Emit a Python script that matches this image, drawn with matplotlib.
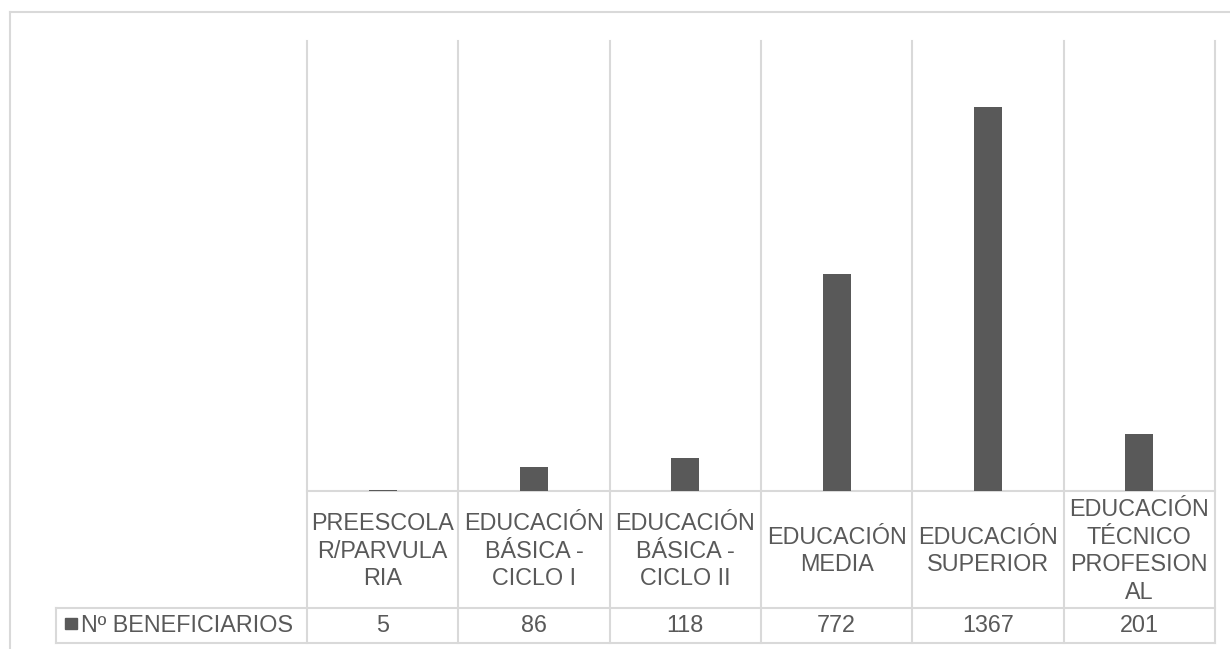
import matplotlib.pyplot as plt
import matplotlib.transforms as mtransforms
from matplotlib.lines import Line2D
from matplotlib.patches import Rectangle

# Data
categories = [
    "PREESCOLA\nR/PARVULA\nRIA",
    "EDUCACIÓN\nBÁSICA -\nCICLO I",
    "EDUCACIÓN\nBÁSICA -\nCICLO II",
    "EDUCACIÓN\nMEDIA",
    "EDUCACIÓN\nSUPERIOR",
    "EDUCACIÓN\nTÉCNICO\nPROFESION\nAL",
]
beneficiarios = [5, 86, 118, 772, 1367, 201]
series_name = "Nº BENEFICIARIOS"

bar_color = "#595959"
grid_color = "#d9d9d9"
text_color = "#595959"
plt.rcParams["font.family"] = ["Liberation Sans", "DejaVu Sans"]
fs = 16.8

W, H = 1230, 649
fig = plt.figure(figsize=(W / 100, H / 100), dpi=100)

# overlay in pixel coordinates for the table and border
ov = fig.add_axes([0, 0, 1, 1])
ov.set_xlim(0, W)
ov.set_ylim(H, 0)
ov.axis("off")

# plot area
x0, x1, y0, y1 = 307, 1215, 41, 491
ax = fig.add_axes([x0 / W, 1 - y1 / H, (x1 - x0) / W, (y1 - y0) / H])
n = len(categories)
ax.bar(range(n), beneficiarios, width=0.185, color=bar_color, zorder=3)
ax.set_xlim(-0.5, n - 0.5)
ax.set_ylim(0, 1600)
ax.axis("off")

# x in data coords of ax, y in pixel coords
tr = mtransforms.blended_transform_factory(ax.transData, ov.transData)

lw = 1.5
# outer border
ov.add_line(Line2D([10, 10], [12, H], color=grid_color, lw=lw))
ov.add_line(Line2D([10, W], [12, 12], color=grid_color, lw=lw))

# vertical separators (plot area + table)
for i in range(n + 1):
    ov.add_line(Line2D([i - 0.5, i - 0.5], [y0, 643], color=grid_color, lw=lw,
                       transform=tr))
# horizontal lines
ov.add_line(Line2D([-0.5, n - 0.5], [491, 491], color=grid_color, lw=lw, transform=tr))
for yy in (608, 643):
    ov.add_line(Line2D([56, x1], [yy, yy], color=grid_color, lw=lw))
ov.add_line(Line2D([56, 56], [608, 643], color=grid_color, lw=lw))

# category labels and values
for i, (cat, val) in enumerate(zip(categories, beneficiarios)):
    ov.text(i, 551, cat, transform=tr, ha="center", va="center",
            fontsize=fs, color=text_color, linespacing=1.25, multialignment="center")
    ov.text(i, 626, str(val), transform=tr, ha="center", va="center",
            fontsize=fs, color=text_color)

# legend key
ov.add_patch(Rectangle((65, 618), 12, 11, color=bar_color))
ov.text(81, 626, series_name, ha="left", va="center", fontsize=fs, color=text_color)

plt.savefig("out.png", dpi=100)
